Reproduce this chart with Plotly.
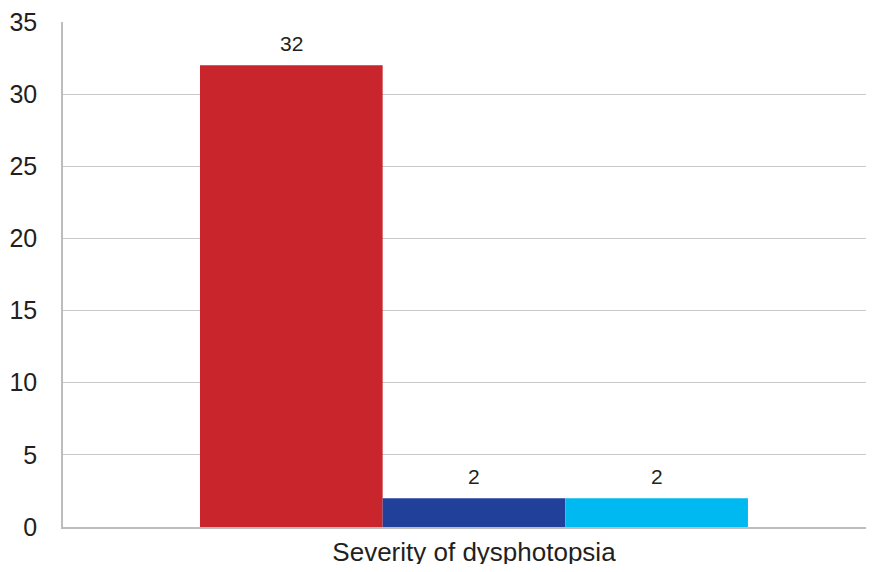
import plotly.graph_objects as go

category = ["Severity of dysphotopsia"]
series_names = ["Series A", "Series B", "Series C"]
series_values = [[32], [2], [2]]
colors = ["#C9252C", "#21409A", "#00B9F1"]

BARGAP = 0.3176
FONT = "Liberation Sans, Arial, sans-serif"

fig = go.Figure()
for name, vals, col in zip(series_names, series_values, colors):
    fig.add_trace(go.Bar(
        x=category, y=vals, name=name, marker=dict(color=col, line=dict(width=0)),
    ))

# value labels above bars
n = len(series_names)
w = (1 - BARGAP) / n
for i, vals in enumerate(series_values):
    for j, v in enumerate(vals):
        fig.add_annotation(
            x=j + (i - (n - 1) / 2) * w, y=v, text=str(v), showarrow=False,
            yanchor="bottom", yshift=8,
            font=dict(size=21, color="#231F20", family=FONT),
        )

# page body has an 8px default margin, so the figure is sized to fit inside it
fig.update_layout(
    width=858, height=556,
    margin=dict(l=55, r=0, t=14, b=37, autoexpand=False),
    paper_bgcolor="white", plot_bgcolor="white",
    barmode="group", bargap=BARGAP, bargroupgap=0,
    showlegend=False,
    font=dict(family=FONT, color="#231F20"),
    xaxis=dict(range=[-0.5118, 0.4882], showline=True, linecolor="#BDBDBD", linewidth=1.5,
               tickfont=dict(size=26), ticks="", showgrid=False, ticklabelstandoff=1,
               automargin=False, ticklabeloverflow="allow"),
    yaxis=dict(range=[0, 35], dtick=5, showline=True, linecolor="#BDBDBD", linewidth=1.5,
               gridcolor="#C8C8C8", gridwidth=1, tickfont=dict(size=25), ticks="",
               ticklabelstandoff=19, zeroline=False, automargin=False,
               ticklabeloverflow="allow"),
)
fig.write_html("out.html")
